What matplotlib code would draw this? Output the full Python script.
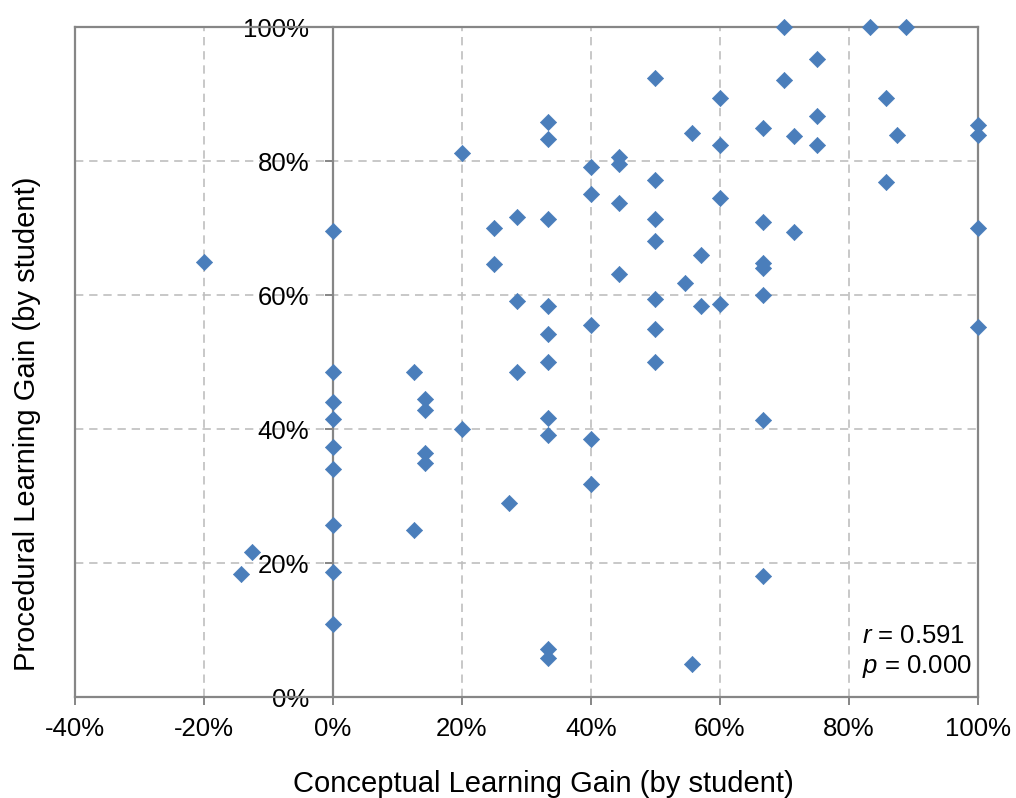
import matplotlib
matplotlib.use("Agg")
import matplotlib.pyplot as plt
from matplotlib.ticker import PercentFormatter, MultipleLocator

plt.rcParams['font.family'] = ['Liberation Sans', 'DejaVu Sans']
plt.rcParams['mathtext.fontset'] = 'custom'
plt.rcParams['mathtext.rm'] = 'Liberation Sans'
plt.rcParams['mathtext.it'] = 'Liberation Sans:italic'
plt.rcParams['axes.unicode_minus'] = False

# Learning gains per student, in percent
conceptual_gain = [
    -20, 0, 20, 25, 28.6, 25, 28.6, 70, 83.3, 88.9,
    75, 50, 70, 60, 85.7, 33.3, 33.3, 75, 66.7, 55.6,
    71.4, 87.5, 60, 75, 100, 100, 44.4, 44.4, 40, 50,
    85.7, 40, 44.4, 60, 33.3, 50, 66.7, 71.4, 100, 50,
    57.1, 66.7, 66.7, 44.4, 54.5, 66.7, 33.3, 50, 57.1, 60,
    40, 50, 33.3, 100, 33.3, 50, 28.6, 33.3, 33.3, 40,
    66.7, 40, 66.7, 33.3, 33.3, 55.6, 0, 12.5, 0, 14.3,
    14.3, 0, 20, 0, 14.3, 14.3, 0, 27.3, 0, 12.5,
    -12.5, -14.3, 0, 0,
]
procedural_gain = [
    65.0, 69.6, 81.2, 70.0, 71.7, 64.7, 59.1, 100, 100, 100,
    95.2, 92.4, 92.2, 89.5, 89.5, 85.8, 83.4, 86.7, 84.9, 84.2,
    83.8, 83.9, 82.4, 82.5, 85.4, 83.9, 80.6, 79.6, 79.2, 77.2,
    76.9, 75.1, 73.8, 74.5, 71.4, 71.4, 70.9, 69.5, 70.0, 68.1,
    66.0, 64.8, 64.1, 63.2, 61.9, 60.0, 58.4, 59.4, 58.4, 58.7,
    55.6, 54.9, 54.2, 55.2, 50.0, 50.0, 48.5, 41.7, 39.2, 38.5,
    41.4, 31.9, 18.1, 7.2, 5.9, 5.0, 48.6, 48.6, 44.0, 44.5,
    42.9, 41.6, 40.0, 37.4, 36.4, 34.9, 34.1, 29.0, 25.7, 25.0,
    21.7, 18.4, 18.7, 11.0,
]

r_text = "$\\it{r}$ = 0.591"
p_text = "$\\it{p}$ = 0.000"
x_label = "Conceptual Learning Gain (by student)"
y_label = "Procedural Learning Gain (by student)"

axis_color = "#868686"
grid_color = "#BFBFBF"
marker_color = "#4A7EBB"

fig = plt.figure(figsize=(10.16, 7.98), dpi=100)
ax = fig.add_axes([0.0738, 0.1262, 0.8888, 0.8396])

ax.set_xlim(-40, 100)
ax.set_ylim(0, 100)
ax.xaxis.set_major_locator(MultipleLocator(20))
ax.yaxis.set_major_locator(MultipleLocator(20))
ax.xaxis.set_major_formatter(PercentFormatter(decimals=0))
ax.yaxis.set_major_formatter(PercentFormatter(decimals=0))

# dashed grid on inner gridlines only
for gx in (-20, 20, 40, 60, 80):
    ax.axvline(gx, color=grid_color, lw=1.2, ls=(0, (5, 3.5)), zorder=0)
for gy in (20, 40, 60, 80):
    ax.axhline(gy, color=grid_color, lw=1.2, ls=(0, (5, 3.5)), zorder=0)

# vertical axis crosses at x = 0, frame around plot area
ax.spines['left'].set_position(('data', 0))
for side in ('left', 'right', 'top', 'bottom'):
    ax.spines[side].set_color(axis_color)
    ax.spines[side].set_linewidth(1.6)
ax.plot([0, 0], [0, 1], transform=ax.transAxes, color=axis_color,
        lw=1.6, clip_on=False, zorder=2.5, solid_capstyle='projecting')

ax.tick_params(axis='both', colors=axis_color, labelcolor='black',
               labelsize=18.5, length=6, width=1.4, direction='out')
ax.tick_params(axis='y', pad=11)
ax.tick_params(axis='x', pad=8)

ax.scatter(conceptual_gain, procedural_gain, marker='D', s=68,
           color=marker_color, edgecolors=marker_color, linewidths=0.5,
           zorder=3, clip_on=False)

ax.text(0.8715, 8.1, r_text, transform=ax.get_yaxis_transform(),
        fontsize=18.5, ha='left', va='baseline')
ax.text(0.8715, 3.6, p_text, transform=ax.get_yaxis_transform(),
        fontsize=18.5, ha='left', va='baseline')

fig.text(0.535, 0.0175, x_label, fontsize=21, ha='center', va='center')
fig.text(0.0266, 0.4687, y_label, fontsize=21, ha='center', va='center',
         rotation=90)

fig.savefig("out.png", dpi=100)
